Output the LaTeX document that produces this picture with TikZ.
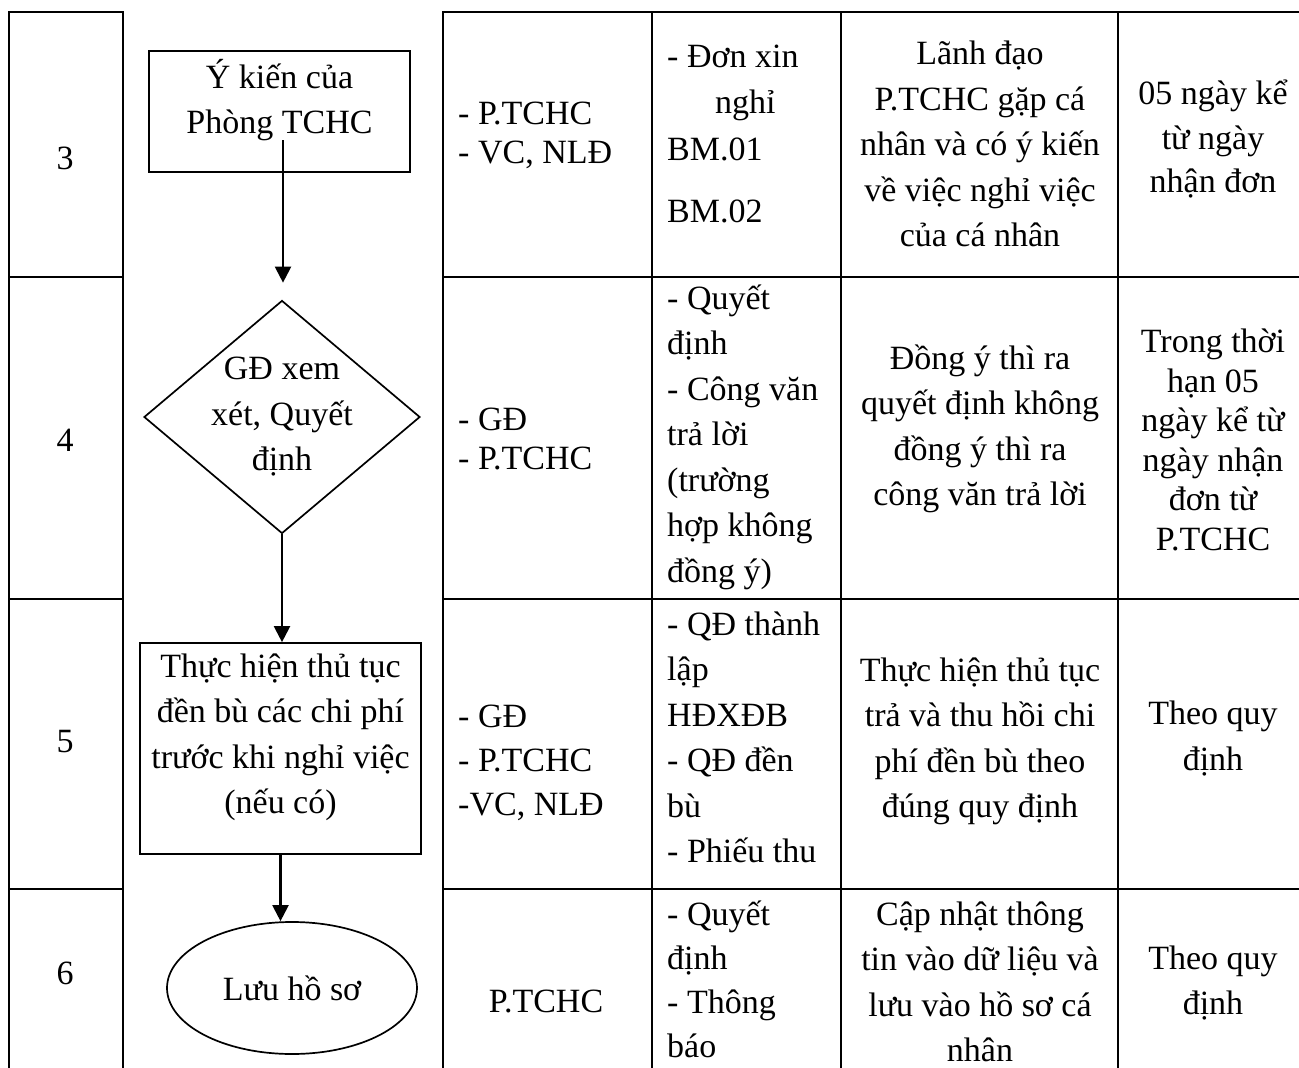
\documentclass[tikz,border=0pt]{standalone}
\usepackage{fontspec}
\setmainfont{Liberation Serif}
\usetikzlibrary{calc, shapes.geometric, arrows.meta}

\begin{document}
\begin{tikzpicture}[x=1pt, y=-1pt]

    \tikzstyle{tabline}=[line width=2.4pt];
    \tikzstyle{txt}=[font=\fontsize{34}{45.5}\selectfont, inner sep=0pt];
    \tikzstyle{cell}=[txt, align=center];
    \tikzstyle{lcell}=[txt, align=left, anchor=west];
    \tikzstyle{procbox}=[draw, line width=1.7pt, txt, align=center, text depth=30pt];
    \tikzstyle{decide}=[diamond, draw, line width=1.7pt, txt, align=center, inner sep=-20pt];
    \tikzstyle{store}=[ellipse, draw, line width=1.7pt, txt];
    \tikzstyle{link}=[-{Triangle[length=16pt, width=16pt]}, line width=2.2pt];

    \useasboundingbox (0,0) rectangle (1299,1068);

    \draw[tabline] (9,1068) -- (9,12) -- (123,12) -- (123,1068);
    \draw[tabline] (443,1068) -- (443,12) -- (1299,12);
    \foreach \x in {652, 841, 1118} \draw[tabline] (\x,12) -- (\x,1068);
    \foreach \y in {277, 599, 889} {
        \draw[tabline] (9,\y) -- (123,\y);
        \draw[tabline] (443,\y) -- (1299,\y);
    }

    \node[cell] (n3) at (65,158) {3};
    \node[cell] (n4) at (65,440) {4};
    \node[cell] (n5) at (65,742) {5};
    \node[cell] (n6) at (65,973) {6};

    \node[procbox, minimum width=261, minimum height=121] (ykien) at (279.5,111.5) {Ý kiến của\\Phòng TCHC};
    \node[decide, minimum width=276, minimum height=233] (xemxet) at (282,417) {GĐ xem\\xét, Quyết\\định};
    \node[procbox, minimum width=281, minimum height=211] (thuchien) at (280.5,748.5) {Thực hiện thủ tục\\đền bù các chi phí\\trước khi nghỉ việc\\(nếu có)};
    \node[store, minimum width=250, minimum height=132] (luuhs) at (292,988) {Lưu hồ sơ};

    \coordinate (a1) at (283,140);
    \draw[link, shorten >=17pt] (a1) -- (a1 |- xemxet.north);
    \draw[link] (xemxet.south) -- (xemxet.south |- thuchien.north);
    \draw[link] (thuchien.south) -- (thuchien.south |- luuhs.north);

    \node[lcell] (r3c3) at (458,135) {- P.TCHC\\[-6.5pt]- VC, NLĐ};
    \node[lcell] (r4c3) at (458,439) {- GĐ\\[-7pt]- P.TCHC};
    \node[lcell] (r5c3) at (458,763) {- GĐ\\[-1.5pt]- P.TCHC\\[-1.5pt]-VC, NLĐ};
    \node[cell] (r6c3) at (546,1001) {P.TCHC};

    \node[lcell] (r3c4) at (667,134) {- Đơn xin\\\hspace*{48pt}nghỉ\\[1.5pt]BM.01\\[16.5pt]BM.02};
    \node[lcell] (r4c4) at (667,437) {- Quyết\\định\\- Công văn\\trả lời\\(trường\\hợp không\\đồng ý)};
    \node[lcell] (r5c4) at (667,737.5) {- QĐ thành\\lập\\HĐXĐB\\- QĐ đền\\bù\\- Phiếu thu};
    \node[lcell] (r6c4) at (667,979) {- Quyết\\[-1.5pt]định\\[-1.5pt]- Thông\\[-1.5pt]báo};

    \node[cell] (r3c5) at (980,144) {Lãnh đạo\\P.TCHC gặp cá\\nhân và có ý kiến\\về việc nghỉ việc\\của cá nhân};
    \node[cell] (r4c5) at (980,429) {Đồng ý thì ra\\quyết định không\\đồng ý thì ra\\công văn trả lời};
    \node[cell] (r5c5) at (980,741.5) {Thực hiện thủ tục\\trả và thu hồi chi\\phí đền bù theo\\đúng quy định};
    \node[cell] (r6c5) at (980,982) {Cập nhật thông\\tin vào dữ liệu và\\lưu vào hồ sơ cá\\nhân};

    \node[cell] (r3c6) at (1213,139) {05 ngày kể\\[-1pt]từ ngày\\[-2pt]nhận đơn};
    \node[cell] (r4c6) at (1213,440) {Trong thời\\[-6pt]hạn 05\\[-6pt]ngày kể từ\\[-6pt]ngày nhận\\[-6pt]đơn từ\\[-6pt]P.TCHC};
    \node[cell] (r5c6) at (1213,738.5) {Theo quy\\định};
    \node[cell] (r6c6) at (1213,983) {Theo quy\\định};

\end{tikzpicture}
\end{document}
